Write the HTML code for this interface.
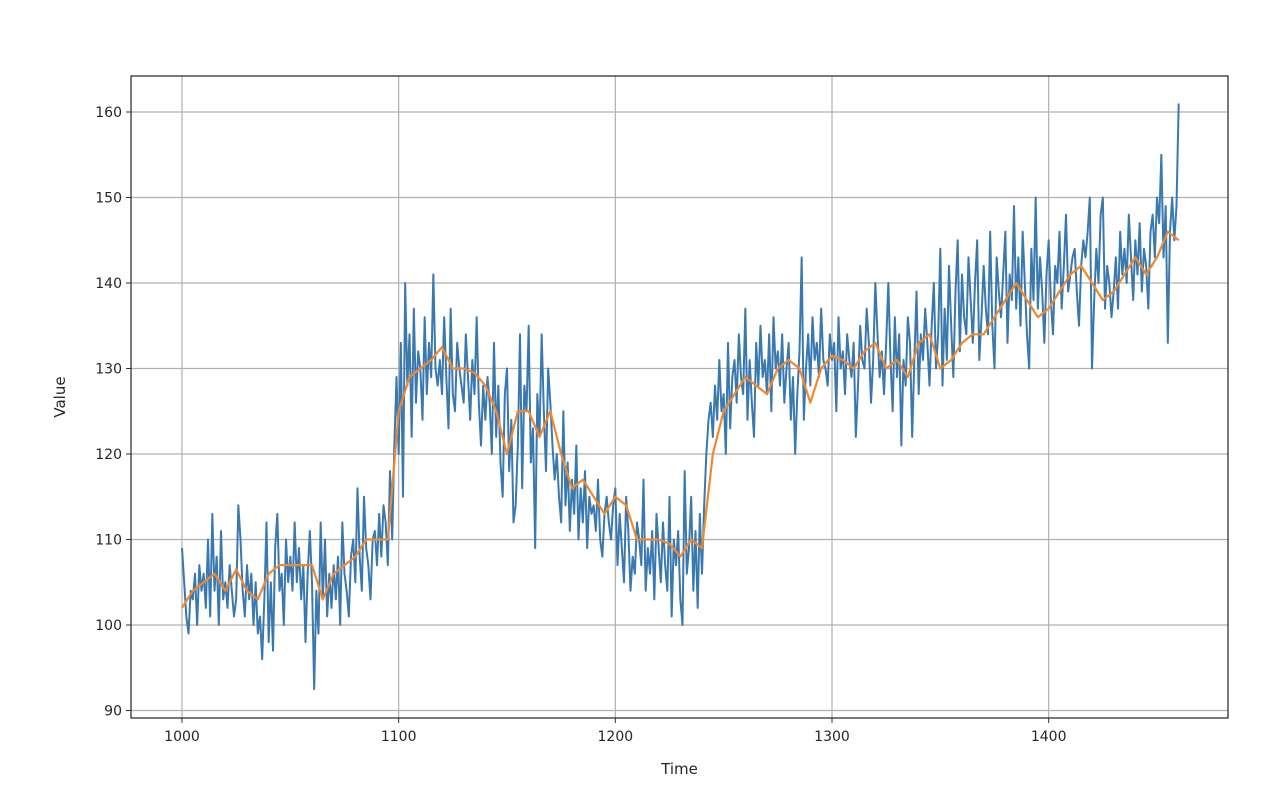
<!DOCTYPE html>
<html><head><meta charset="utf-8"><style>
body{margin:0;background:#fff;}
svg{display:block;font-family:"DejaVu Sans","Liberation Sans",sans-serif;}
</style></head><body>
<svg id="chart" width="1284" height="790" viewBox="0 0 1284 790"></svg>
<script>
const xTicks=[1000,1100,1200,1300,1400];
const yTicks=[90,100,110,120,130,140,150,160];
const startTime=1000;
const seriesValues=[
109,105,101,99,104,103,106,100,107,104,
106,102,110,101,113,104,108,100,111,103,
105,102,107,104,101,103,114,110,104,101,
107,103,106,100,105,99,101,96,103,112,
98,105,97,109,113,104,106,100,110,105,
108,104,112,105,109,103,107,98,106,111,
105,92.5,104,99,112,103,110,101,106,102,
107,103,108,100,112,106,104,101,108,110,
105,116,108,104,115,109,107,103,110,111,
107,113,108,114,112,107,118,110,121,129,
120,133,115,140,128,134,122,137,126,132,
130,124,136,127,133,129,141,130,128,131,
127,136,129,123,137,127,125,133,130,128,
126,134,129,124,131,127,136,126,121,128,
124,129,126,120,133,122,128,119,115,127,
130,118,124,112,114,121,134,116,128,125,
135,119,123,109,127,122,134,125,118,130,
126,121,117,120,115,112,125,114,119,111,
117,113,121,110,116,112,118,109,115,113,
114,111,117,110,108,113,115,112,110,114,
116,107,113,109,105,115,111,104,108,106,
112,110,107,117,104,109,106,111,103,113,
109,105,112,107,104,115,101,110,107,111,
103,100,118,106,109,115,104,111,102,113,
106,114,120,124,126,122,128,124,131,125,
127,120,133,123,129,131,126,134,129,127,
137,124,131,126,122,133,128,135,129,131,
127,134,125,136,130,132,128,134,126,130,
133,124,129,120,127,132,143,124,130,134,
128,136,131,133,129,137,131,130,128,134,
131,133,125,136,130,132,127,134,131,129,
133,122,128,135,131,130,137,133,126,131,
140,134,129,132,127,133,140,131,125,136,
129,134,121,131,128,136,133,122,131,139,
127,134,131,137,133,128,135,140,130,134,
144,128,137,131,142,135,129,139,145,132,
141,136,134,143,138,133,140,145,131,136,
142,137,134,146,135,130,143,139,136,141,
146,133,141,138,149,137,143,135,146,140,
134,130,144,138,150,137,143,139,133,141,
145,138,134,142,140,146,137,142,148,139,
141,143,144,139,135,142,145,143,146,150,
130,138,144,140,148,150,137,142,140,136,
139,143,137,146,141,144,140,148,143,138,
145,141,147,139,144,142,137,146,148,143,
150,147,155,143,149,133,146,150,145,149,
161
];
const forecastValues=[
102,104,105,106,104,106.5,104,103,106,107,
107,107,107,103,106,107,108,110,110,110,
125,129,130,131,132.5,130,130,129.5,128,125,
120,125,125,122,125,120,116,117,115,113,
115,114,110,110,110,109.5,108,110,109,120,
125,127,129,128,127,130,131,130,126,130,
131.5,131,130,132,133,130,131,129,133,134,
130,131,133,134,134,136,138,140,138,136,
137,139,141,142,140,138,139,141,143,141,
143,146,145
];
const fTimes=[];
for(let i=0;i<forecastValues.length;i++) fTimes.push(1000+i*5);

const svg=document.getElementById('chart');
const NS='http://www.w3.org/2000/svg';
const L=131,R=1228,T=76,B=718;
function xs(t){return 182+(t-1000)*(832-182)/300;}
function ys(v){return 625-(v-100)*(625-112)/60;}
function mk(tag,attrs,parent){const e=document.createElementNS(NS,tag);for(const k in attrs)e.setAttribute(k,attrs[k]);(parent||svg).appendChild(e);return e;}

const grid=mk('g',{});


xTicks.forEach(t=>{
  const l=mk('line',{x1:xs(t),x2:xs(t),y1:T,y2:B,stroke:'#b0b0b0','stroke-width':1.2},grid);
  
  
  const tk=mk('line',{x1:xs(t),x2:xs(t),y1:B,y2:B+5,stroke:'#333','stroke-width':1});
  
  
  const tx=mk('text',{x:xs(t),y:B+23,'text-anchor':'middle','font-size':14,fill:'#262626'});
  tx.textContent=t;
  
  
});
yTicks.forEach(v=>{
  const l=mk('line',{x1:L,x2:R,y1:ys(v),y2:ys(v),stroke:'#b0b0b0','stroke-width':1.2},grid);
  
  
  const tk=mk('line',{x1:L-5,x2:L,y1:ys(v),y2:ys(v),stroke:'#333','stroke-width':1});
  
  
  const tx=mk('text',{x:L-9,y:ys(v)+5,'text-anchor':'end','font-size':14,fill:'#262626'});
  tx.textContent=v;
  
  
});

const sd=seriesValues.map((v,i)=>(i?'L':'M')+xs(startTime+i).toFixed(2)+','+ys(v).toFixed(2)).join('');
const s1=mk('path',{d:sd,fill:'none',stroke:'#3a78b0','stroke-width':2,'stroke-linejoin':'round'});


const fd=forecastValues.map((v,i)=>(i?'L':'M')+xs(fTimes[i]).toFixed(2)+','+ys(v).toFixed(2)).join('');
const s2=mk('path',{d:fd,fill:'none',stroke:'#f0882e','stroke-width':2.2,'stroke-linejoin':'round'});



const frame=mk('rect',{x:L,y:T,width:R-L,height:B-T,fill:'none',stroke:'#222','stroke-width':1.2});


const xl=mk('text',{x:(L+R)/2,y:774,'text-anchor':'middle','font-size':15,fill:'#262626'});
xl.textContent='Time';


const yl=mk('text',{x:65,y:(T+B)/2,'text-anchor':'middle','font-size':15,fill:'#262626',transform:'rotate(-90 65 '+((T+B)/2)+')'});
yl.textContent='Value';


</script>
</body></html>
